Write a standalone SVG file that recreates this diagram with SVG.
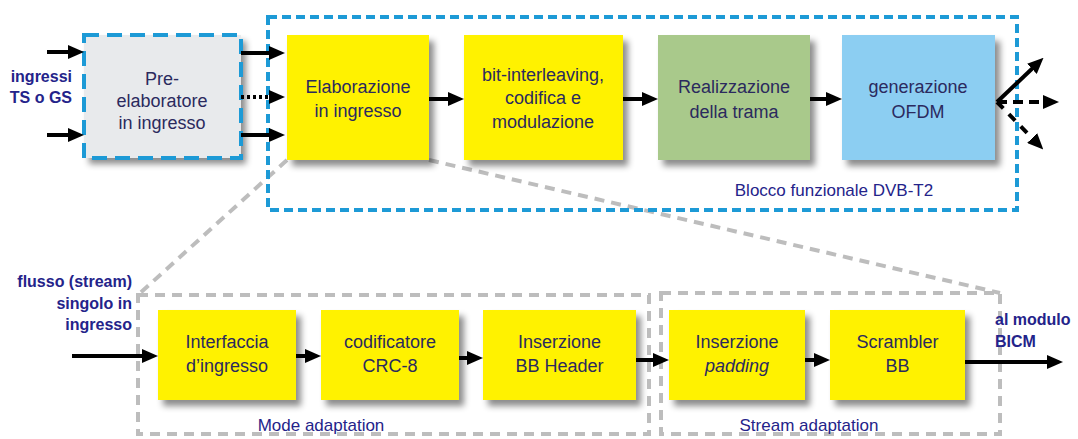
<svg xmlns="http://www.w3.org/2000/svg" width="1078" height="439" viewBox="0 0 1078 439">
<style>
.y{fill:#fff200}
.t{font-family:"Liberation Sans",Arial,sans-serif;font-size:18px;fill:#2b2a5e;text-anchor:middle}
.lbl{font-family:"Liberation Sans",Arial,sans-serif;font-size:16px;font-weight:bold;fill:#24238a}
.cap{font-family:"Liberation Sans",Arial,sans-serif;font-size:17px;fill:#24238a;text-anchor:middle}
.ar{stroke:#000;stroke-width:4;fill:none;marker-end:url(#ah)}
.bluedash{fill:none;stroke:#1d9ad6;stroke-width:4}
.graydash{fill:none;stroke:#bdbdbd;stroke-width:4;stroke-dasharray:10 7}
</style>
<defs>
<marker id="ah" viewBox="0 0 16 14" markerWidth="16" markerHeight="14" refX="7" refY="7" markerUnits="userSpaceOnUse" orient="auto">
<path d="M0,0 L16,7 L0,14 z" fill="#000"/>
</marker>
<filter id="sh" x="-10%" y="-10%" width="130%" height="135%">
<feDropShadow dx="5" dy="6" stdDeviation="3" flood-color="#000" flood-opacity="0.45"/>
</filter>
</defs>

<g id="zoom-lines">
<line class="graydash" x1="287" y1="160" x2="138" y2="295"/>
<line class="graydash" x1="429" y1="160" x2="1000" y2="293"/>
</g>

<g id="blocco-dvbt2">
<rect class="bluedash" x="268" y="17" width="749" height="193" stroke-dasharray="9 5"/>
<text class="cap" x="834" y="196">Blocco funzionale DVB-T2</text>
</g>

<g id="mode-adaptation">
<rect class="graydash" x="138" y="295" width="511" height="139"/>
<text class="cap" x="321" y="431">Mode adaptation</text>
</g>
<g id="stream-adaptation">
<rect class="graydash" x="661" y="293" width="339" height="141"/>
<text class="cap" x="809" y="431">Stream adaptation</text>
</g>

<g id="pre-elaboratore">
<rect x="84" y="35" width="157" height="123" fill="#e8eaec" filter="url(#sh)"/>
<rect class="bluedash" x="84" y="35" width="157" height="123" stroke-dasharray="15 8"/>
<text class="t" x="162" y="85">Pre-</text>
<text class="t" x="162" y="107">elaboratore</text>
<text class="t" x="162" y="129">in ingresso</text>
</g>

<g id="elaborazione">
<rect class="y" x="287" y="35" width="142" height="125" filter="url(#sh)"/>
<text class="t" x="358" y="93">Elaborazione</text>
<text class="t" x="358" y="117">in ingresso</text>
</g>
<g id="bicm">
<rect class="y" x="464" y="35" width="159" height="125" filter="url(#sh)"/>
<text class="t" x="543" y="81">bit-interleaving,</text>
<text class="t" x="543" y="104">codifica e</text>
<text class="t" x="543" y="128">modulazione</text>
</g>
<g id="trama">
<rect x="658" y="35" width="152" height="125" fill="#a9c98b" filter="url(#sh)"/>
<text class="t" x="734" y="93">Realizzazione</text>
<text class="t" x="734" y="118">della trama</text>
</g>
<g id="ofdm">
<rect x="842" y="35" width="153" height="125" fill="#8ccef2" filter="url(#sh)"/>
<text class="t" x="918" y="93">generazione</text>
<text class="t" x="918" y="118">OFDM</text>
</g>

<g id="interfaccia">
<rect class="y" x="158" y="310" width="138" height="90" filter="url(#sh)"/>
<text class="t" x="227" y="348">Interfaccia</text>
<text class="t" x="227" y="372">d’ingresso</text>
</g>
<g id="crc8">
<rect class="y" x="321" y="310" width="138" height="90" filter="url(#sh)"/>
<text class="t" x="390" y="348">codificatore</text>
<text class="t" x="390" y="372">CRC-8</text>
</g>
<g id="bbheader">
<rect class="y" x="483" y="310" width="153" height="90" filter="url(#sh)"/>
<text class="t" x="559.5" y="348">Inserzione</text>
<text class="t" x="559.5" y="372">BB Header</text>
</g>
<g id="padding">
<rect class="y" x="669" y="310" width="136" height="90" filter="url(#sh)"/>
<text class="t" x="737" y="348">Inserzione</text>
<text class="t" x="737" y="372" font-style="italic">padding</text>
</g>
<g id="scrambler">
<rect class="y" x="830" y="310" width="135" height="90" filter="url(#sh)"/>
<text class="t" x="897.5" y="348">Scrambler</text>
<text class="t" x="897.5" y="372">BB</text>
</g>

<g id="labels">
<text class="lbl" x="72" y="82" text-anchor="end">ingressi</text>
<text class="lbl" x="72" y="103" text-anchor="end">TS o GS</text>
<text class="lbl" x="132" y="287" text-anchor="end">flusso (stream)</text>
<text class="lbl" x="132" y="309" text-anchor="end">singolo in</text>
<text class="lbl" x="132" y="330" text-anchor="end">ingresso</text>
<text class="lbl" x="995" y="325">al modulo</text>
<text class="lbl" x="995" y="347">BICM</text>
</g>

<g id="connectors">
<line class="ar" x1="47" y1="52" x2="75" y2="52"/>
<line class="ar" x1="47" y1="135" x2="75" y2="135"/>
<line class="ar" x1="241" y1="53" x2="276" y2="53"/>
<line class="ar" x1="241" y1="97" x2="276" y2="97" stroke-dasharray="3 3"/>
<line class="ar" x1="241" y1="135" x2="276" y2="135"/>
<line class="ar" x1="429" y1="99" x2="455" y2="99"/>
<line class="ar" x1="623" y1="99" x2="649" y2="99"/>
<line class="ar" x1="810" y1="99" x2="833" y2="99"/>
<line class="ar" x1="997" y1="102" x2="1037" y2="64"/>
<line class="ar" x1="997" y1="102" x2="1050" y2="102" stroke-dasharray="10 6"/>
<line class="ar" x1="997" y1="102" x2="1037" y2="143" stroke-dasharray="9 8"/>
<line class="ar" x1="72" y1="356" x2="149" y2="356"/>
<line class="ar" x1="296" y1="356" x2="312" y2="356"/>
<line class="ar" x1="459" y1="358" x2="474" y2="358"/>
<line class="ar" x1="636" y1="360" x2="660" y2="360"/>
<line class="ar" x1="805" y1="360" x2="821" y2="360"/>
<line class="ar" x1="965" y1="362" x2="1054" y2="362"/>
</g>
</svg>
